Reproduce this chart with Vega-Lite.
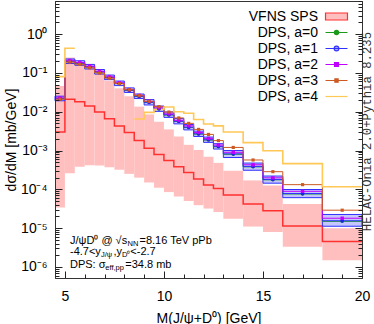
{
  "$schema": "https://vega.github.io/schema/vega-lite/v6.json",
  "width": 307,
  "height": 277,
  "autosize": {"type": "none"},
  "padding": {"left": 55, "top": 1, "right": 12, "bottom": 46},
  "title": {"text": "HELAC-Onia 2.0+Pythia 8.235", "orient": "right", "anchor": "middle", "angle": 270, "baseline": "top", "font": "Liberation Mono", "fontSize": 12.3, "fontWeight": "normal", "color": "#333", "offset": -21, "dx": 8},
  "datasets": {
    "bins": [
      {"lo": 4.5, "hi": 5, "mid": 4.75, "VFNS SPS": 0.003, "sps_lo": 3.4e-5, "sps_hi": 0.046, "DPS, a=0": 0.0216, "DPS, a=1": 0.022, "a1_lo": 0.0191, "a1_hi": 0.0251, "DPS, a=2": 0.0227, "DPS, a=3": 0.021, "DPS, a=4": 0.08},
      {"lo": 5, "hi": 5.5, "mid": 5.25, "VFNS SPS": 0.021, "sps_lo": 2.6e-4, "sps_hi": 0.25, "DPS, a=0": 0.196, "DPS, a=1": 0.2, "a1_lo": 0.174, "a1_hi": 0.228, "DPS, a=2": 0.206, "DPS, a=3": 0.19, "DPS, a=4": 0.43},
      {"lo": 5.5, "hi": 6, "mid": 5.75, "VFNS SPS": 0.018, "sps_lo": 3.8e-4, "sps_hi": 0.19, "DPS, a=0": 0.176, "DPS, a=1": 0.18, "a1_lo": 0.157, "a1_hi": 0.205, "DPS, a=2": 0.185, "DPS, a=3": 0.166, "DPS, a=4": null},
      {"lo": 6, "hi": 6.5, "mid": 6.25, "VFNS SPS": 0.014, "sps_lo": 4.2e-4, "sps_hi": 0.13, "DPS, a=0": 0.142, "DPS, a=1": 0.145, "a1_lo": 0.126, "a1_hi": 0.165, "DPS, a=2": 0.149, "DPS, a=3": 0.135, "DPS, a=4": null},
      {"lo": 6.5, "hi": 7, "mid": 6.75, "VFNS SPS": 0.0098, "sps_lo": 4.1e-4, "sps_hi": 0.093, "DPS, a=0": 0.105, "DPS, a=1": 0.107, "a1_lo": 0.0931, "a1_hi": 0.122, "DPS, a=2": 0.11, "DPS, a=3": 0.099, "DPS, a=4": null},
      {"lo": 7, "hi": 7.5, "mid": 7.25, "VFNS SPS": 0.0066, "sps_lo": 3.7e-4, "sps_hi": 0.063, "DPS, a=0": 0.0755, "DPS, a=1": 0.077, "a1_lo": 0.067, "a1_hi": 0.0878, "DPS, a=2": 0.079, "DPS, a=3": 0.073, "DPS, a=4": null},
      {"lo": 7.5, "hi": 8, "mid": 7.75, "VFNS SPS": 0.0043, "sps_lo": 3.2e-4, "sps_hi": 0.04, "DPS, a=0": 0.053, "DPS, a=1": 0.054, "a1_lo": 0.047, "a1_hi": 0.0616, "DPS, a=2": 0.0556, "DPS, a=3": 0.053, "DPS, a=4": null},
      {"lo": 8, "hi": 8.5, "mid": 8.25, "VFNS SPS": 0.0029, "sps_lo": 2.5e-4, "sps_hi": 0.025, "DPS, a=0": 0.0353, "DPS, a=1": 0.036, "a1_lo": 0.0313, "a1_hi": 0.041, "DPS, a=2": 0.037, "DPS, a=3": 0.037, "DPS, a=4": null},
      {"lo": 8.5, "hi": 9, "mid": 8.75, "VFNS SPS": 0.0018, "sps_lo": 2.0e-4, "sps_hi": 0.0135, "DPS, a=0": 0.0245, "DPS, a=1": 0.025, "a1_lo": 0.0218, "a1_hi": 0.0285, "DPS, a=2": 0.0263, "DPS, a=3": 0.026, "DPS, a=4": 0.0065},
      {"lo": 9, "hi": 9.5, "mid": 9.25, "VFNS SPS": 0.00114, "sps_lo": 1.5e-4, "sps_hi": 0.0085, "DPS, a=0": 0.0172, "DPS, a=1": 0.0175, "a1_lo": 0.0149, "a1_hi": 0.0205, "DPS, a=2": 0.0184, "DPS, a=3": 0.0185, "DPS, a=4": 0.0096},
      {"lo": 9.5, "hi": 10, "mid": 9.75, "VFNS SPS": 7.9e-4, "sps_lo": 1.1e-4, "sps_hi": 0.0055, "DPS, a=0": 0.0118, "DPS, a=1": 0.012, "a1_lo": 0.0102, "a1_hi": 0.014, "DPS, a=2": 0.0126, "DPS, a=3": 0.0135, "DPS, a=4": 0.0115},
      {"lo": 10, "hi": 10.5, "mid": 10.25, "VFNS SPS": 5.5e-4, "sps_lo": 8.5e-5, "sps_hi": 0.0035, "DPS, a=0": 0.0082, "DPS, a=1": 0.0084, "a1_lo": 0.00714, "a1_hi": 0.00983, "DPS, a=2": 0.0088, "DPS, a=3": 0.0098, "DPS, a=4": 0.0132},
      {"lo": 10.5, "hi": 11, "mid": 10.75, "VFNS SPS": 3.8e-4, "sps_lo": 6.5e-5, "sps_hi": 0.0023, "DPS, a=0": 0.0056, "DPS, a=1": 0.0057, "a1_lo": 0.00485, "a1_hi": 0.00667, "DPS, a=2": 0.006, "DPS, a=3": 0.0069, "DPS, a=4": 0.01},
      {"lo": 11, "hi": 11.5, "mid": 11.25, "VFNS SPS": 2.7e-4, "sps_lo": 5.0e-5, "sps_hi": 0.0014, "DPS, a=0": 0.0039, "DPS, a=1": 0.004, "a1_lo": 0.0034, "a1_hi": 0.00468, "DPS, a=2": 0.00432, "DPS, a=3": 0.005, "DPS, a=4": 0.0091},
      {"lo": 11.5, "hi": 12, "mid": 11.75, "VFNS SPS": 1.85e-4, "sps_lo": 3.9e-5, "sps_hi": 0.00103, "DPS, a=0": 0.00265, "DPS, a=1": 0.0027, "a1_lo": 0.0023, "a1_hi": 0.00316, "DPS, a=2": 0.00292, "DPS, a=3": 0.0035, "DPS, a=4": 0.0063},
      {"lo": 12, "hi": 12.5, "mid": 12.25, "VFNS SPS": 1.3e-4, "sps_lo": 3.2e-5, "sps_hi": 6.9e-4, "DPS, a=0": 0.00186, "DPS, a=1": 0.0019, "a1_lo": 0.00162, "a1_hi": 0.00222, "DPS, a=2": 0.00205, "DPS, a=3": 0.0026, "DPS, a=4": 0.0048},
      {"lo": 12.5, "hi": 13, "mid": 12.75, "VFNS SPS": 1.05e-4, "sps_lo": 2.6e-5, "sps_hi": 4.8e-4, "DPS, a=0": 0.00125, "DPS, a=1": 0.00128, "a1_lo": 0.00109, "a1_hi": 0.0015, "DPS, a=2": 0.00138, "DPS, a=3": 0.0018, "DPS, a=4": 0.0043},
      {"lo": 13, "hi": 14, "mid": 13.5, "VFNS SPS": 7.1e-5, "sps_lo": 1.75e-5, "sps_hi": 3.0e-4, "DPS, a=0": 8.0e-4, "DPS, a=1": 8.2e-4, "a1_lo": 6.6e-4, "a1_hi": 1.0e-3, "DPS, a=2": 9.0e-4, "DPS, a=3": 0.0012, "DPS, a=4": 0.003},
      {"lo": 14, "hi": 15, "mid": 14.5, "VFNS SPS": 4.2e-5, "sps_lo": 1.1e-5, "sps_hi": 1.7e-4, "DPS, a=0": 3.8e-4, "DPS, a=1": 3.9e-4, "a1_lo": 3.1e-4, "a1_hi": 4.75e-4, "DPS, a=2": 4.3e-4, "DPS, a=3": 5.7e-4, "DPS, a=4": 0.0016},
      {"lo": 15, "hi": 16, "mid": 15.5, "VFNS SPS": 2.8e-5, "sps_lo": 8e-6, "sps_hi": 1.25e-4, "DPS, a=0": 1.76e-4, "DPS, a=1": 1.8e-4, "a1_lo": 1.44e-4, "a1_hi": 2.2e-4, "DPS, a=2": 1.98e-4, "DPS, a=3": 2.85e-4, "DPS, a=4": 9.9e-4},
      {"lo": 16, "hi": 18, "mid": 17, "VFNS SPS": 1.14e-5, "sps_lo": 3.3e-6, "sps_hi": 4.2e-5, "DPS, a=0": 7.6e-5, "DPS, a=1": 7.8e-5, "a1_lo": 6.1e-5, "a1_hi": 9.9e-5, "DPS, a=2": 8.9e-5, "DPS, a=3": 1.32e-4, "DPS, a=4": 4.6e-4},
      {"lo": 18, "hi": 20, "mid": 19, "VFNS SPS": 4.5e-6, "sps_lo": 1.5e-6, "sps_hi": 1.0e-5, "DPS, a=0": 1.5e-5, "DPS, a=1": 1.55e-5, "a1_lo": 1.12e-5, "a1_hi": 2.25e-5, "DPS, a=2": 1.8e-5, "DPS, a=3": 2.9e-5, "DPS, a=4": 1.17e-4}
    ],
    "notes": [
      {"x": 5.257, "y": 3.9e-6, "t": "J/ψD⁰ @ √s", "sub": 0},
      {"x": 8.166, "y": 3.9e-6, "t": "NN", "sub": 1},
      {"x": 8.766, "y": 3.9e-6, "t": "=8.16 TeV pPb", "sub": 0},
      {"x": 5.257, "y": 2.03e-6, "t": "-4.7<y", "sub": 0},
      {"x": 6.817, "y": 2.03e-6, "t": "J/ψ", "sub": 1},
      {"x": 7.449, "y": 2.03e-6, "t": ",y", "sub": 0},
      {"x": 7.883, "y": 2.03e-6, "t": "D⁰", "sub": 1},
      {"x": 8.302, "y": 2.03e-6, "t": "<-2.7", "sub": 0},
      {"x": 5.257, "y": 9.4e-7, "t": "DPS: σ", "sub": 0},
      {"x": 7.04, "y": 9.4e-7, "t": "eff,pp", "sub": 1},
      {"x": 8.049, "y": 9.4e-7, "t": "=34.8 mb", "sub": 0}
    ]
  },
  "data": {"name": "bins"},
  "resolve": {"axis": {"x": "independent", "y": "independent"}},
  "layer": [
    {
      "mark": {"type": "rect", "fill": "#ffbfbf", "opacity": 1},
      "encoding": {
        "x": {"field": "lo", "type": "quantitative", "scale": {"type": "linear", "domain": [4.5, 20], "nice": false, "zero": false},
          "axis": {"orient": "bottom", "values": [5, 10, 15, 20], "ticks": false, "domain": false, "grid": false, "labelFlush": false, "labelFontSize": 14, "labelPadding": 11, "title": "M(J/ψ+D⁰) [GeV]", "titleFontSize": 14, "titleFontWeight": "normal", "titlePadding": 8}},
        "x2": {"field": "hi"},
        "y": {"field": "sps_lo", "type": "quantitative", "scale": {"type": "log", "domain": [5.2e-7, 7.1], "nice": false},
          "axis": {"orient": "left", "values": [1e-6, 1e-5, 1e-4, 0.001, 0.01, 0.1, 1], "ticks": false, "domain": false, "grid": false, "labelFontSize": 14, "labelPadding": 8,
            "labelExpr": "datum.value >= 0.5 ? '10⁰' : datum.value >= 0.05 ? '10⁻¹' : datum.value >= 0.005 ? '10⁻²' : datum.value >= 0.0005 ? '10⁻³' : datum.value >= 0.00005 ? '10⁻⁴' : datum.value >= 0.000005 ? '10⁻⁵' : '10⁻⁶'",
            "title": "dσ/dM [mb/GeV]", "titleFontSize": 14, "titleFontWeight": "normal", "titlePadding": 2}},
        "y2": {"field": "sps_hi"}
      }
    },
    {
      "transform": [{"fold": ["lo", "hi"], "as": ["side", "edge"]}],
      "mark": {"type": "line", "color": "#ff3030", "strokeWidth": 1.5},
      "encoding": {"x": {"field": "edge", "type": "quantitative", "axis": null}, "y": {"field": "VFNS SPS", "type": "quantitative", "axis": null}, "order": {"value": null}}
    },
    {
      "mark": {"type": "rect", "fill": "#8080ff", "fillOpacity": 0.45, "stroke": "#3030ff", "strokeWidth": 1},
      "encoding": {"x": {"field": "lo", "type": "quantitative", "axis": null}, "x2": {"field": "hi"}, "y": {"field": "a1_lo", "type": "quantitative", "axis": null}, "y2": {"field": "a1_hi"}}
    },
    {
      "transform": [{"fold": ["lo", "hi"], "as": ["side", "edge"]}],
      "mark": {"type": "line", "color": "#1a9a1a", "strokeWidth": 1},
      "encoding": {"x": {"field": "edge", "type": "quantitative", "axis": null}, "y": {"field": "DPS, a=0", "type": "quantitative", "axis": null}, "order": {"value": null}}
    },
    {
      "transform": [{"fold": ["lo", "hi"], "as": ["side", "edge"]}],
      "mark": {"type": "line", "color": "#3030ff", "strokeWidth": 1},
      "encoding": {"x": {"field": "edge", "type": "quantitative", "axis": null}, "y": {"field": "DPS, a=1", "type": "quantitative", "axis": null}, "order": {"value": null}}
    },
    {
      "transform": [{"fold": ["lo", "hi"], "as": ["side", "edge"]}],
      "mark": {"type": "line", "color": "#c000ff", "strokeWidth": 1},
      "encoding": {"x": {"field": "edge", "type": "quantitative", "axis": null}, "y": {"field": "DPS, a=2", "type": "quantitative", "axis": null}, "order": {"value": null}}
    },
    {
      "transform": [{"fold": ["lo", "hi"], "as": ["side", "edge"]}],
      "mark": {"type": "line", "color": "#cc5a22", "strokeWidth": 1},
      "encoding": {"x": {"field": "edge", "type": "quantitative", "axis": null}, "y": {"field": "DPS, a=3", "type": "quantitative", "axis": null}, "order": {"value": null}}
    },
    {
      "transform": [{"fold": ["lo", "hi"], "as": ["side", "edge"]}],
      "mark": {"type": "line", "color": "#ffc857", "strokeWidth": 1.6, "invalid": "break-paths-filter-domains"},
      "encoding": {"x": {"field": "edge", "type": "quantitative", "axis": null}, "y": {"field": "DPS, a=4", "type": "quantitative", "axis": null}, "order": {"value": null}}
    },
    {
      "mark": {"type": "point", "shape": "circle", "filled": true, "color": "#1a9a1a", "size": 12, "opacity": 1},
      "encoding": {"x": {"field": "mid", "type": "quantitative", "axis": null}, "y": {"field": "DPS, a=0", "type": "quantitative", "axis": null}}
    },
    {
      "mark": {"type": "point", "shape": "circle", "filled": true, "color": "#2020ee", "size": 14, "opacity": 1},
      "encoding": {"x": {"field": "mid", "type": "quantitative", "axis": null}, "y": {"field": "DPS, a=1", "type": "quantitative", "axis": null}}
    },
    {
      "mark": {"type": "point", "shape": "square", "filled": true, "color": "#c000ff", "size": 12, "opacity": 1},
      "encoding": {"x": {"field": "mid", "type": "quantitative", "axis": null}, "y": {"field": "DPS, a=2", "type": "quantitative", "axis": null}}
    },
    {
      "mark": {"type": "point", "shape": "square", "filled": true, "color": "#cc5a22", "size": 10, "opacity": 1},
      "encoding": {"x": {"field": "mid", "type": "quantitative", "axis": null}, "y": {"field": "DPS, a=3", "type": "quantitative", "axis": null}}
    },
    {
      "transform": [{"fold": ["VFNS SPS", "DPS, a=0", "DPS, a=1", "DPS, a=2", "DPS, a=3", "DPS, a=4"], "as": ["series", "val"]}],
      "mark": {"type": "point", "opacity": 0, "filled": true},
      "encoding": {
        "x": {"field": "mid", "type": "quantitative", "axis": null},
        "y": {"field": "val", "type": "quantitative", "axis": null},
        "fill": {"field": "series", "type": "nominal", "title": null,
          "scale": {"domain": ["VFNS SPS", "DPS, a=0", "DPS, a=1", "DPS, a=2", "DPS, a=3", "DPS, a=4"], "range": ["#ffbfbf", "#1a9a1a", "#aaaaff", "#c000ff", "#cc5a22", "rgba(0,0,0,0)"]}},
        "stroke": {"field": "series", "type": "nominal", "title": null,
          "scale": {"domain": ["VFNS SPS", "DPS, a=0", "DPS, a=1", "DPS, a=2", "DPS, a=3", "DPS, a=4"], "range": ["#ff3030", "#1a9a1a", "#3030ff", "#c000ff", "#cc5a22", "#ffc857"]}},
        "shape": {"field": "series", "type": "nominal", "title": null,
          "scale": {"domain": ["VFNS SPS", "DPS, a=0", "DPS, a=1", "DPS, a=2", "DPS, a=3", "DPS, a=4"], "range": [
            "M-1.69,-0.54H1.69V0.54H-1.69Z",
            "M-1.69,0H1.69M0.33,0A0.33,0.33,0,1,1,-0.33,0A0.33,0.33,0,1,1,0.33,0Z",
            "M-1.69,0H1.69M0.36,0A0.36,0.36,0,1,1,-0.36,0A0.36,0.36,0,1,1,0.36,0Z",
            "M-1.69,0H1.69M-0.3,-0.3H0.3V0.3H-0.3Z",
            "M-1.69,0H1.69M-0.25,-0.25H0.25V0.25H-0.25Z",
            "M-1.69,0H1.69"]}}
      }
    },
    {
      "data": {"name": "notes"},
      "transform": [{"filter": "datum.sub == 0"}],
      "mark": {"type": "text", "align": "left", "baseline": "alphabetic", "fontSize": 11, "font": "Liberation Sans", "color": "#000"},
      "encoding": {"x": {"field": "x", "type": "quantitative", "axis": null}, "y": {"field": "y", "type": "quantitative", "axis": null}, "text": {"field": "t"}}
    },
    {
      "data": {"name": "notes"},
      "transform": [{"filter": "datum.sub == 1"}],
      "mark": {"type": "text", "align": "left", "baseline": "alphabetic", "fontSize": 7.5, "dy": 1.5, "font": "Liberation Sans", "color": "#000"},
      "encoding": {"x": {"field": "x", "type": "quantitative", "axis": null}, "y": {"field": "y", "type": "quantitative", "axis": null}, "text": {"field": "t"}}
    },
    {
      "mark": {"type": "point", "opacity": 0},
      "encoding": {
        "x": {"field": "lo", "type": "quantitative", "axis": {"orient": "bottom", "values": [5, 10, 15, 20], "labels": false, "grid": false, "domain": true, "domainColor": "#333", "tickSize": -7, "tickColor": "#222", "title": null, "zindex": 2}},
        "y": {"field": "DPS, a=1", "type": "quantitative", "axis": {"orient": "left", "values": [1e-6, 1e-5, 1e-4, 0.001, 0.01, 0.1, 1], "labels": false, "grid": false, "domain": true, "domainColor": "#333", "tickSize": -7, "tickColor": "#222", "title": null, "zindex": 2}}
      }
    },
    {
      "mark": {"type": "point", "opacity": 0},
      "encoding": {
        "x": {"field": "lo", "type": "quantitative", "axis": {"orient": "bottom", "values": [6, 7, 8, 9, 11, 12, 13, 14, 16, 17, 18, 19], "labels": false, "grid": false, "domain": false, "tickSize": -4, "tickColor": "#222", "title": null, "zindex": 2}},
        "y": {"field": "DPS, a=1", "type": "quantitative", "axis": {"orient": "left", "values": [6e-7, 7e-7, 8e-7, 9e-7, 2e-6, 3e-6, 4e-6, 5e-6, 6e-6, 7e-6, 8e-6, 9e-6, 2e-5, 3e-5, 4e-5, 5e-5, 6e-5, 7e-5, 8e-5, 9e-5, 2e-4, 3e-4, 4e-4, 5e-4, 6e-4, 7e-4, 8e-4, 9e-4, 0.002, 0.003, 0.004, 0.005, 0.006, 0.007, 0.008, 0.009, 0.02, 0.03, 0.04, 0.05, 0.06, 0.07, 0.08, 0.09, 0.2, 0.3, 0.4, 0.5, 0.6, 0.7, 0.8, 0.9, 2, 3, 4, 5, 6, 7], "labels": false, "grid": false, "domain": false, "tickSize": -4, "tickColor": "#222", "title": null, "zindex": 2}}
      }
    },
    {
      "mark": {"type": "point", "opacity": 0},
      "encoding": {
        "y": {"field": "DPS, a=1", "type": "quantitative", "axis": {"orient": "right", "values": [1e-6, 1e-5, 1e-4, 0.001, 0.01, 0.1, 1], "labels": false, "grid": false, "domain": true, "domainColor": "#333", "tickSize": -7, "tickColor": "#222", "title": null, "zindex": 2}}
      }
    },
    {
      "mark": {"type": "point", "opacity": 0},
      "encoding": {
        "y": {"field": "DPS, a=1", "type": "quantitative", "axis": {"orient": "right", "values": [6e-7, 7e-7, 8e-7, 9e-7, 2e-6, 3e-6, 4e-6, 5e-6, 6e-6, 7e-6, 8e-6, 9e-6, 2e-5, 3e-5, 4e-5, 5e-5, 6e-5, 7e-5, 8e-5, 9e-5, 2e-4, 3e-4, 4e-4, 5e-4, 6e-4, 7e-4, 8e-4, 9e-4, 0.002, 0.003, 0.004, 0.005, 0.006, 0.007, 0.008, 0.009, 0.02, 0.03, 0.04, 0.05, 0.06, 0.07, 0.08, 0.09, 0.2, 0.3, 0.4, 0.5, 0.6, 0.7, 0.8, 0.9, 2, 3, 4, 5, 6, 7], "labels": false, "grid": false, "domain": false, "tickSize": -4, "tickColor": "#222", "title": null, "zindex": 2}}
      }
    }
  ],
  "config": {
    "font": "Liberation Sans",
    "view": {"stroke": "#333", "strokeWidth": 1},
    "axis": {"labelFont": "Liberation Sans", "titleFont": "Liberation Sans", "labelColor": "#000", "titleColor": "#000", "grid": false},
    "legend": {"orient": "none", "legendX": 274, "legendY": 8, "padding": 0, "labelFont": "Liberation Sans", "labelFontSize": 14, "labelColor": "#000", "labelAlign": "right", "labelOffset": -26, "symbolSize": 169, "symbolStrokeWidth": 1.2, "symbolOpacity": 1, "rowPadding": 1, "labelLimit": 300}
  }
}
